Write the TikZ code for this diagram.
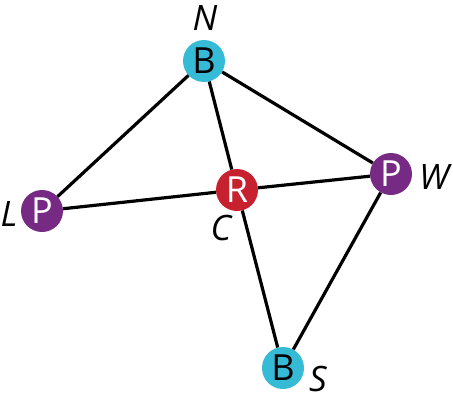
\documentclass[tikz,border=0pt]{standalone}
\usepackage{fontspec}
\setmainfont{Open Sans}
\usepackage{xcolor}
\usepackage{tikz}
\usetikzlibrary{positioning}
\definecolor{vcyan}{RGB}{54,187,214}
\definecolor{vpurple}{RGB}{118,42,131}
\definecolor{vred}{RGB}{199,32,46}

\begin{document}
\begin{tikzpicture}[x=1pt, y=-1pt,
  v/.style={circle, minimum size=42pt, inner sep=0pt, font=\fontsize{36}{36}\selectfont},
  bv/.style={v, fill=vcyan, text=black},
  pv/.style={v, fill=vpurple, text=white},
  rv/.style={v, fill=vred, text=white},
  e/.style={black, line width=3.2pt},
  lbl/.style={font=\fontsize{35}{35}\itshape, inner sep=0pt}
]
  \useasboundingbox (0,0) rectangle (453,407);
  \node[bv] (N) at (204,61) {B};
  \node[pv] (L) at (42,211) {P};
  \node[rv] (C) at (237,190) {R};
  \node[pv] (W) at (391,174) {P};
  \node[bv] (S) at (283,368) {B};
  \node[lbl] (nN) at (205,18) {N};
  \node[lbl] (nL) at (9,214) {L};
  \node[lbl] (nC) at (221,228) {C};
  \node[lbl] (nW) at (434,177) {W};
  \node[lbl] (nS) at (318,379) {S};
  \draw[e] (N) -- (L);
  \draw[e] (N) -- (C);
  \draw[e] (N) -- (W);
  \draw[e] (L) -- (C);
  \draw[e] (C) -- (W);
  \draw[e] (C) -- (S);
  \draw[e] (W) -- (S);
\end{tikzpicture}
\end{document}
